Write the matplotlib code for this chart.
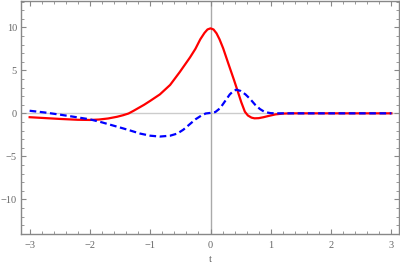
import numpy as np
import matplotlib.pyplot as plt
from matplotlib.ticker import MultipleLocator

# valores
t_rojo = [-3.0, -2.5, -2.2, -2.0, -1.85, -1.7, -1.55, -1.45, -1.36, -1.28, -1.2,
          -1.1, -1.0, -0.84, -0.67, -0.51, -0.34, -0.25, -0.17, -0.1, -0.05, 0.0,
          0.05, 0.1, 0.15, 0.21, 0.3, 0.39, 0.45, 0.51, 0.57, 0.62, 0.68, 0.73,
          0.8, 0.88, 0.96, 1.08, 1.2, 1.35, 2.0, 3.0]
v_rojo = [-0.45, -0.65, -0.75, -0.77, -0.72, -0.6, -0.4, -0.22, -0.02, 0.28, 0.6,
          1.0, 1.45, 2.2, 3.3, 4.8, 6.5, 7.5, 8.6, 9.35, 9.75, 9.88,
          9.75, 9.3, 8.6, 7.56, 5.7, 3.87, 2.6, 1.3, 0.19, -0.25, -0.5, -0.58,
          -0.56, -0.45, -0.31, -0.12, -0.03, 0.0, 0.0, 0.0]

t_azul = [-3.0, -2.75, -2.5, -2.25, -2.0, -1.8, -1.6, -1.45, -1.33, -1.17, -1.0,
          -0.84, -0.67, -0.55, -0.45, -0.35, -0.25, -0.15, -0.08, 0.0, 0.08,
          0.16, 0.24, 0.32, 0.38, 0.43, 0.5, 0.58, 0.66, 0.74, 0.82, 0.9, 1.0,
          1.1, 2.0, 3.0]
v_azul = [0.3, 0.1, -0.15, -0.42, -0.7, -1.05, -1.45, -1.75, -2.0, -2.35, -2.6,
          -2.7, -2.6, -2.35, -1.9, -1.3, -0.7, -0.25, -0.02, 0.05, 0.15,
          0.6, 1.4, 2.2, 2.6, 2.75, 2.6, 2.2, 1.65, 1.0, 0.5, 0.15, 0.02,
          0.0, 0.0, 0.0]

gris = '#888888'

fig = plt.figure(figsize=(4, 2.69), dpi=100)
ax = fig.add_axes([0.053, 0.131, 0.945, 0.865])

ax.axhline(0, color='#cccccc', lw=1, zorder=1)
ax.axvline(0, color='#aaaaaa', lw=1, zorder=1)

ax.plot(t_rojo, v_rojo, color='#ff0000', lw=1.6, zorder=2)
ax.plot(t_azul, v_azul, color='#0000ff', lw=1.6, linestyle=(0, (3, 1.6)), zorder=3)

ax.set_xlim(-3.14, 3.13)
ax.set_ylim(-14, 13.05)

ax.xaxis.set_major_locator(MultipleLocator(1))
ax.xaxis.set_minor_locator(MultipleLocator(0.2))
ax.yaxis.set_major_locator(MultipleLocator(5))
ax.yaxis.set_minor_locator(MultipleLocator(1))

for s in ax.spines.values():
    s.set_color(gris)
    s.set_linewidth(1)

ax.tick_params(which='both', direction='in', top=True, right=True,
               color=gris, labelcolor='#666666', labelsize=7.5)
ax.tick_params(which='major', length=3.5, width=0.8)
ax.tick_params(which='minor', length=2, width=0.6)
ax.tick_params(axis='x', pad=5)
ax.tick_params(axis='y', pad=3)

for lab in ax.get_xticklabels() + ax.get_yticklabels():
    lab.set_family('Liberation Serif')

ax.set_xlabel('t', family='Liberation Serif', fontsize=7.5, color='#666666', labelpad=4)

fig.savefig('out.png', dpi=100)
